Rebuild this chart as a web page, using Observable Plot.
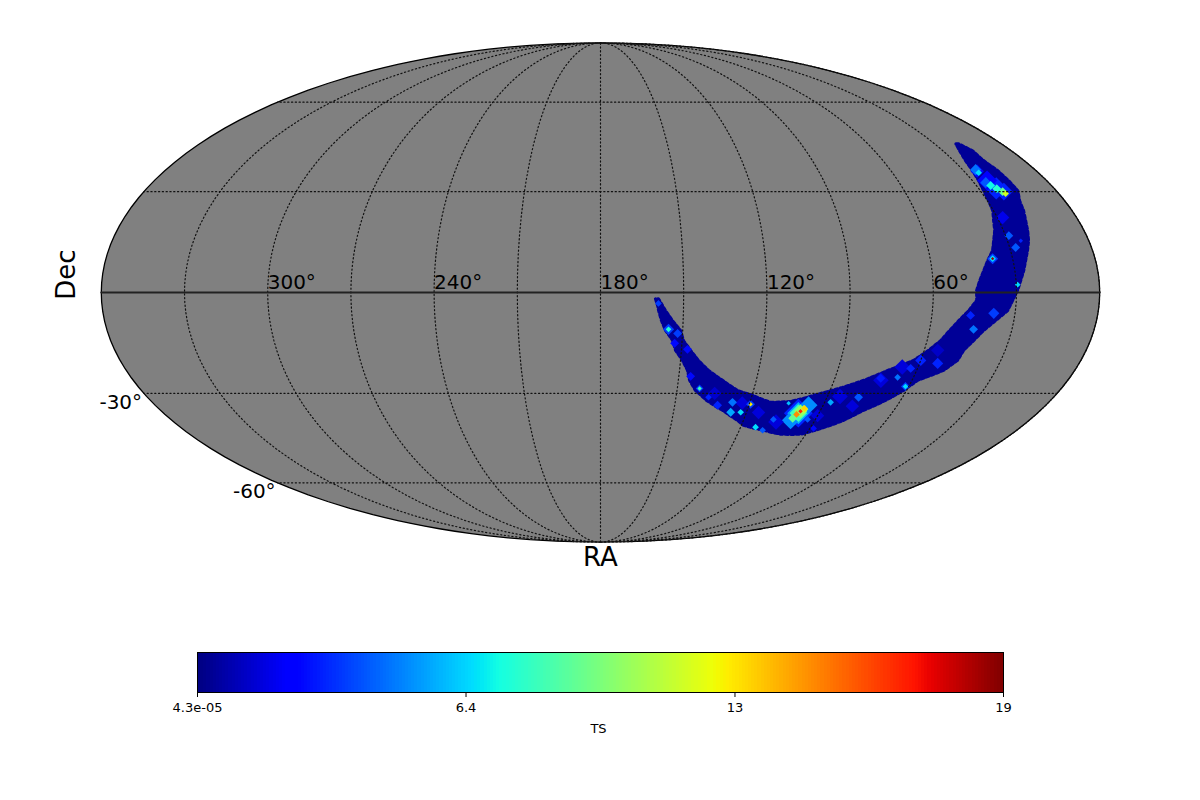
<!DOCTYPE html>
<html><head><meta charset="utf-8">
<style>html,body{margin:0;padding:0;background:#fff;overflow:hidden}svg{display:block}</style>
<script src="https://cdn.jsdelivr.net/npm/d3@7"></script>
<script src="https://cdn.jsdelivr.net/npm/@observablehq/plot@0.6"></script>
</head><body><div id="chart"></div>
<script>
// Skymap footprint outline (RA, Dec in degrees)
const outlineRA=[19.2,17.0,17.3,15.9,15.4,15.2,17.5,18.5,19.9,21.0,22.2,23.8,25.4,26.8,28.3,29.6,31.3,32.8,36.6,40.2,42.9,45.4,46.2,49.8,57.8,61.2,66.0,72.4,78.0,82.0,87.0,92.3,101.1,109.5,119.1,122.5,130.1,137.6,142.8,145.7,147.0,149.3,152.2,153.5,156.3,157.9,159.0,159.4,160.2,159.1,157.6,156.5,153.9,150.8,149.5,146.6,143.3,139.0,133.0,126.3,119.8,111.7,103.8,93.2,78.6,71.0,62.7,58.4,55.0,52.6,50.0,46.9,44.3,44.4,43.1,41.3,39.2,36.6,35.1,33.3,32.0,30.3,29.5,28.7,27.5,26.3,25.0,22.7,20.5];
const outlineDec=[45.3,43.0,39.8,36.6,33.4,30.3,27.2,24.2,21.2,18.2,15.2,12.3,9.4,6.4,3.5,0.6,-2.3,-5.3,-8.2,-11.1,-14.1,-17.0,-20.0,-23.0,-26.0,-29.1,-32.2,-35.3,-38.5,-40.1,-41.7,-43.0,-43.0,-41.7,-40.1,-38.5,-35.3,-32.2,-29.1,-26.0,-23.0,-20.0,-17.0,-14.1,-11.1,-8.2,-5.3,-3.8,-1.8,-1.8,-3.8,-5.3,-8.2,-11.1,-14.1,-17.0,-20.0,-23.0,-26.0,-29.1,-30.6,-32.8,-32.5,-30.0,-26.0,-23.0,-20.0,-17.0,-14.1,-11.1,-8.2,-5.3,-2.3,0.6,3.5,6.4,9.4,12.3,15.2,18.2,21.2,24.2,27.2,30.3,33.4,36.6,39.8,43.0,45.3];
const baseTS=0.4;
// Hot spots
const spotRA=[24.6,24.6,25.3,24.3,22.9,21.5,20.9,28.0,28.8,27.8,37.3,37.3,37.3,25.1,29.5,46.0,37.7,44.0,53.2,60.0,62.6,61.3,61.3,66.1,72.4,77.5,87.6,93.3,104.3,107.6,88.4,155.2,155.2,151.8,159.1,152.7,147.8,141.3,141.3,145.5,127.0,126.5,122.4,119.5,119.5,113.6,109.9,132.7,137.1,98.5,98.5,98.5,98.0,97.0,99.8,96.9,99.0,98.0, 24.6,24.0,23.0,21.0,100.2,95.9,85,72,66,115,106,90,78,55,135,123];
const spotDec=[36.9,35.9,32.8,31.9,30.9,30.0,29.4,22.1,16.7,13.2,9.9,9.9,9.9,15.2,2.3,-6.7,-6.1,-10.8,-20.9,-20.0,-22.4,-27.9,-27.9,-25.1,-25.4,-31.2,-32.8,-38.2,-33.1,-38.2,-41.1,-10.8,-10.8,-12.0,-3.2,-14.9,-16.7,-28.5,-28.5,-24.8,-32.8,-35.9,-35.9,-33.4,-33.4,-40.7,-41.7,-33.7,-31.2,-36.2,-36.2,-36.2,-35.6,-35.0,-37.8,-34.7,-36.6,-35.6, 36.4,33.5,31.0,30.0,-38.5,-33.7,-31,-26,-22,-36,-39,-37,-34,-17,-30,-33];
const spotTS=[4.5,6.5,4,7,7.5,9,11.5,1.8,4,4,3.5,6.5,18.5,3,6.5,3,3.5,4.5,3,3,3,3.5,6.5,4.5,2.8,4,5.5,4,6,4,2.5,3.5,7.5,3.5,3.5,2.5,2.5,3.5,8,2.5,4.5,5.5,6.5,3.5,12.5,6.5,4,3,3,3,5.5,8,10,11,9,13,14.5,16.5, 2.5,2.3,3,3,5,5,1.5,1.5,1.5,1.5,1.5,1.5,1.5,1.2,1.3,1.5];
const spotR=[5,3,5,4,4,4,3,6,4,4,5,3,1.5,2,2.5,4,5,4,5,5,4,4,2.5,3,4,4,3,3,2,3,3,5,2.5,4,3,4,4,3.5,2,4,4,4,3,4,2,3,3,4,3,13,10,8,6,4,4,3,3,2, 6,9,10,8,8,8,7,7,7,6,7,6,6,6,6,6];
// Grid and labels
const raLabels=[300,240,180,120,60];
const decLabels=[-30,-60];
// Colour scale
const tsMin=0.000043, tsMax=19;
const jetStops=[0,.11,.125,.34,.35,.375,.64,.65,.66,.89,.91,1];
const jetColors=["#00007f","#0000ff","#0000ff","#00dbff","#00e5f7","#14ffe2","#eeff08","#f7f500","#ffec00","#ff1300","#e80000","#7f0000"];
const tsTicks=[0.000043,6.33,12.67,19];
const tsTickLabels=["4.3e-05","6.4","13","19"];

const colorScale={type:"linear",domain:jetStops.map(t=>tsMin+t*(tsMax-tsMin)),range:jetColors,clamp:true};
const FONT="DejaVu Sans";

function mollweideRaw(l,p){
  let t=p;
  if(Math.abs(Math.abs(p)-Math.PI/2)>1e-9) for(let i=0;i<30;i++){const d=(t*2+Math.sin(2*t)-Math.PI*Math.sin(p))/(2+2*Math.cos(2*t));t-=d;if(Math.abs(d)<1e-9)break;}
  return [2*Math.SQRT2/Math.PI*l*Math.cos(t),Math.SQRT2*Math.sin(t)];
}
const projection=d3.geoProjection(mollweideRaw).rotate([-180,0]).reflectX(true).scale(176.5).translate([600,292]).precision(.1);

let ring=outlineRA.map((r,i)=>[r,outlineDec[i]]);ring.push(ring[0]);
let footprint={type:"Polygon",coordinates:[ring]};
if(d3.geoArea(footprint)>2*Math.PI) footprint={type:"Polygon",coordinates:[ring.slice().reverse()]};

const graticule=d3.geoGraticule().step([30,30]).extent([[-180,-90.001],[180,90.001]]).precision(1);
const spots=d3.sort(spotRA.map((ra,i)=>({ra,dec:spotDec[i],ts:spotTS[i],r:spotR[i]})),d=>d.ts);
const equator={type:"LineString",coordinates:[[0.01,0],[90,0],[180,0],[270,0],[359.99,0]]};

const map=Plot.plot({
  width:1200,height:640,margin:0,projection,
  color:colorScale,
  r:{type:"identity"},
  style:{fontFamily:FONT,background:"#fff"},
  marks:[
    Plot.sphere({fill:"#808080",stroke:"black",strokeWidth:1.3}),
    Plot.geo(footprint,{fill:()=>baseTS,stroke:()=>baseTS,strokeWidth:3,strokeDasharray:"3,2.5"}),
    Plot.dot(spots,{x:"ra",y:"dec",r:"r",fill:"ts",symbol:"diamond2"}),
    Plot.geo(graticule(),{stroke:"#111",strokeWidth:1.2,strokeDasharray:"1.2,2.6"}),
    Plot.geo(equator,{stroke:"#222",strokeWidth:2}),
    Plot.text(raLabels,{x:d=>d,y:()=>0,text:d=>d+"°",textAnchor:"start",lineAnchor:"bottom",dy:-4,fontSize:20,fill:"black"}),
    Plot.text(decLabels,{x:()=>359.9,y:d=>d,text:d=>d+"°",textAnchor:"end",dx:-2,dy:9,fontSize:20,fill:"black"}),
    Plot.text(["Dec"],{x:()=>359.9,y:()=>0,text:d=>d,rotate:-90,dx:-35,dy:-18,fontSize:26,fill:"black"}),
    Plot.text(["RA"],{x:()=>180,y:()=>-89.9,text:d=>d,dy:16,fontSize:26,fill:"black"})
  ]
});

const bins=d3.range(256);
const bar=Plot.plot({
  width:1200,height:160,marginLeft:197,marginRight:197,marginTop:12,marginBottom:108,
  x:{domain:[tsMin,tsMax],label:null},
  y:{domain:[0,1],axis:null},
  color:colorScale,
  style:{fontFamily:FONT,background:"#fff"},
  marks:[
    Plot.rect(bins,{x1:i=>tsMin+i/256*(tsMax-tsMin),x2:i=>tsMin+(i+1)/256*(tsMax-tsMin),y1:()=>0,y2:()=>1,fill:i=>tsMin+(i+.5)/256*(tsMax-tsMin),shapeRendering:"crispEdges"}),
    Plot.frame({stroke:"black",strokeWidth:1}),
    Plot.axisX({ticks:tsTicks,tickFormat:(d,i)=>tsTickLabels[i],tickSize:5,tickPadding:5,fontSize:13,label:null,stroke:"black",fill:"black"}),
    Plot.text(["TS"],{frameAnchor:"bottom",text:d=>d,dx:-2,dy:40,fontSize:13,fill:"black"})
  ]
});
document.getElementById("chart").append(map,bar);
</script></body></html>
